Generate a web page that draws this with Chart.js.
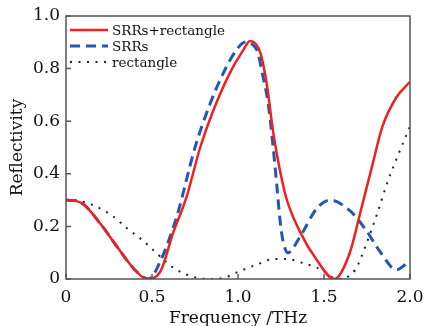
<!DOCTYPE html>
<html>
<head>
<meta charset="utf-8">
<script src="https://cdn.jsdelivr.net/npm/chart.js@4.4.1/dist/chart.umd.min.js"></script>
<style>
  html, body { margin: 0; padding: 0; background: #fff; }
  #wrap { width: 425px; height: 326px; }
</style>
</head>
<body>
<div id="wrap"><canvas id="chart"></canvas></div>
<script>
// values
const seriesLabels = ['SRRs+rectangle', 'SRRs', 'rectangle'];

const freqBoth = [0, 0.05, 0.1, 0.2, 0.3, 0.4, 0.47, 0.55, 0.62, 0.7, 0.78, 0.85, 0.95, 1.03, 1.07, 1.13, 1.17, 1.2, 1.23, 1.28, 1.36, 1.46, 1.56, 1.65, 1.71, 1.78, 1.84, 1.92, 2.0];
const reflBoth = [0.30, 0.298, 0.285, 0.21, 0.12, 0.035, 0.0, 0.03, 0.17, 0.31, 0.50, 0.63, 0.78, 0.87, 0.905, 0.86, 0.73, 0.58, 0.46, 0.31, 0.18, 0.07, 0.0, 0.10, 0.25, 0.43, 0.58, 0.69, 0.75];

const freqSrr = [0, 0.05, 0.1, 0.2, 0.3, 0.4, 0.48, 0.55, 0.645, 0.75, 0.84, 0.92, 0.99, 1.04, 1.11, 1.145, 1.175, 1.2, 1.225, 1.245, 1.26, 1.29, 1.36, 1.46, 1.535, 1.65, 1.74, 1.83, 1.92, 2.0];
const reflSrr = [0.30, 0.298, 0.285, 0.21, 0.12, 0.035, 0.0, 0.07, 0.24, 0.50, 0.67, 0.79, 0.87, 0.90, 0.87, 0.77, 0.67, 0.53, 0.36, 0.22, 0.15, 0.10, 0.16, 0.27, 0.30, 0.26, 0.19, 0.10, 0.035, 0.07];

const freqRect = [0, 0.04, 0.16, 0.27, 0.36, 0.44, 0.55, 0.63, 0.73, 0.83, 0.92, 1.0, 1.11, 1.21, 1.28, 1.38, 1.47, 1.58, 1.68, 1.75, 1.81, 1.87, 1.93, 2.0];
const reflRect = [0.30, 0.30, 0.28, 0.24, 0.19, 0.15, 0.084, 0.04, 0.01, 0.0, 0.005, 0.027, 0.055, 0.076, 0.076, 0.06, 0.04, 0.0, 0.034, 0.14, 0.25, 0.37, 0.47, 0.58];

const xTicks = [0, 0.5, 1.0, 1.5, 2.0];
const yTicks = [0, 0.2, 0.4, 0.6, 0.8, 1.0];

const FONT = "'DejaVu Serif', 'Liberation Serif', serif";

function toPoints(xs, ys) {
    return xs.map((x, i) => ({ x: x, y: ys[i] }));
}

// frame, inward ticks and the legend inside the plot
const framePlugin = {
    id: 'frame',
    afterDraw(chart) {
        const ctx = chart.ctx;
        const a = chart.chartArea;
        const xs = chart.scales.x;
        const ys = chart.scales.y;
        ctx.save();
        ctx.strokeStyle = '#555';
        ctx.lineWidth = 1.5;
        ctx.strokeRect(a.left, a.top, a.right - a.left, a.bottom - a.top);
        ctx.beginPath();
        xTicks.forEach(v => {
            const px = xs.getPixelForValue(v);
            ctx.moveTo(px, a.bottom);
            ctx.lineTo(px, a.bottom - 5);
        });
        yTicks.forEach(v => {
            const py = ys.getPixelForValue(v);
            ctx.moveTo(a.left, py);
            ctx.lineTo(a.left + 5, py);
        });
        ctx.stroke();

        // legend
        ctx.font = '13.5px ' + FONT;
        ctx.textBaseline = 'middle';
        chart.data.datasets.forEach((ds, i) => {
            const y = a.top + 14 + i * 16;
            ctx.beginPath();
            ctx.strokeStyle = ds.borderColor;
            ctx.lineWidth = ds.borderWidth;
            ctx.setLineDash(ds.borderDash || []);
            ctx.moveTo(a.left + 4, y);
            ctx.lineTo(a.left + 42, y);
            ctx.stroke();
            ctx.setLineDash([]);
            ctx.fillStyle = '#111';
            ctx.fillText(ds.label, a.left + 46, y + 1);
        });
        ctx.restore();
    }
};

const ctx = document.getElementById('chart').getContext('2d');
new Chart(ctx, {
    type: 'line',
    data: {
        datasets: [
            {
                label: seriesLabels[0],
                data: toPoints(freqBoth, reflBoth),
                borderColor: '#f02020',
                borderWidth: 2.5,
                cubicInterpolationMode: 'monotone',
                pointRadius: 0
            },
            {
                label: seriesLabels[1],
                data: toPoints(freqSrr, reflSrr),
                borderColor: '#2456b4',
                borderWidth: 3,
                borderDash: [10, 6],
                cubicInterpolationMode: 'monotone',
                pointRadius: 0
            },
            {
                label: seriesLabels[2],
                data: toPoints(freqRect, reflRect),
                borderColor: '#222',
                borderWidth: 2,
                borderDash: [2, 6.5],
                cubicInterpolationMode: 'monotone',
                pointRadius: 0
            }
        ]
    },
    options: {
        responsive: true,
        maintainAspectRatio: false,
        animation: false,
        layout: { padding: 0 },
        plugins: {
            legend: { display: false },
            tooltip: { enabled: false }
        },
        scales: {
            x: {
                type: 'linear',
                min: 0,
                max: 2,
                afterBuildTicks: (scale) => { scale.ticks = xTicks.map(v => ({ value: v })); },
                afterFit: (scale) => {
                    scale.height = 47;
                    scale.paddingLeft = 0;
                    scale.paddingRight = 15;
                },
                grid: { display: false, drawTicks: false },
                border: { display: false },
                ticks: {
                    padding: 8,
                    color: '#111',
                    font: { family: FONT, size: 17 },
                    maxRotation: 0,
                    callback: (v) => v === 0 ? '0' : v.toFixed(1)
                },
                title: {
                    display: true,
                    text: 'Frequency /THz',
                    color: '#111',
                    font: { family: FONT, size: 17, lineHeight: 0.9 },
                    padding: { top: 0, bottom: 0 }
                }
            },
            y: {
                min: 0,
                max: 1,
                afterBuildTicks: (scale) => { scale.ticks = yTicks.map(v => ({ value: v })); },
                afterFit: (scale) => {
                    scale.width = 66;
                    scale.paddingTop = 16;
                    scale.paddingBottom = 0;
                },
                grid: { display: false, drawTicks: false },
                border: { display: false },
                ticks: {
                    padding: 6,
                    color: '#111',
                    font: { family: FONT, size: 17 },
                    callback: (v) => v === 0 ? '0' : v.toFixed(1)
                },
                title: {
                    display: true,
                    text: 'Reflectivity',
                    color: '#111',
                    font: { family: FONT, size: 17 },
                    padding: { top: 7, bottom: 0 }
                }
            }
        }
    },
    plugins: [framePlugin]
});
</script>
</body>
</html>
